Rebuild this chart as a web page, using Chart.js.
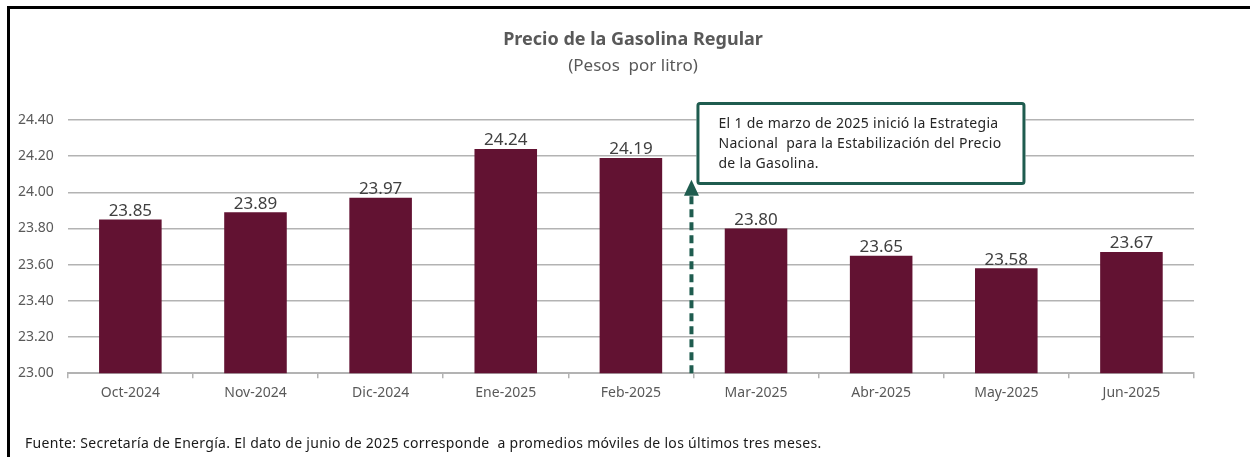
<!DOCTYPE html>
<html>
<head>
<meta charset="utf-8">
<script src="https://cdn.jsdelivr.net/npm/chart.js@4.4.1/dist/chart.umd.min.js"></script>
<style>
  html, body { margin: 0; padding: 0; background: #fff; overflow: hidden; }
  #frame { position: absolute; left: 7px; top: 6px; width: 1300px; height: 600px; border: 3px solid #000; }
  #wrap { position: absolute; left: 0; top: 0; width: 1250px; height: 457px; }
</style>
</head>
<body>
<div id="frame"></div>
<div id="wrap"><canvas id="gasChart" width="1250" height="457"></canvas></div>
<script>
const months = ['Oct-2024', 'Nov-2024', 'Dic-2024', 'Ene-2025', 'Feb-2025', 'Mar-2025', 'Abr-2025', 'May-2025', 'Jun-2025'];
const prices = [23.85, 23.89, 23.97, 24.24, 24.19, 23.80, 23.65, 23.58, 23.67];
const chartTitle = 'Precio de la Gasolina Regular';
const chartSubtitle = '(Pesos  por litro)';
const noteLines = [
    'El 1 de marzo de 2025 inició la Estrategia',
    'Nacional  para la Estabilización del Precio',
    'de la Gasolina.'
];
const sourceNote = 'Fuente: Secretaría de Energía. El dato de junio de 2025 corresponde  a promedios móviles de los últimos tres meses.';

const FONT = "'Noto Sans', 'Open Sans', sans-serif";
const BAR = '#621232';
const GREEN = '#1f5c4f';

// valores encima de cada barra
const barLabels = {
    id: 'barLabels',
    afterDatasetsDraw(chart) {
        const ctx = chart.ctx;
        const meta = chart.getDatasetMeta(0);
        ctx.save();
        ctx.font = '17px ' + FONT;
        ctx.fillStyle = '#404040';
        ctx.textAlign = 'center';
        ctx.textBaseline = 'bottom';
        meta.data.forEach((bar, i) => {
            ctx.fillText(prices[i].toFixed(2), bar.x, bar.y);
        });
        ctx.restore();
    }
};

// titulo, flecha punteada, recuadro de la nota y fuente
const noteBox = {
    id: 'noteBox',
    afterDraw(chart) {
        const ctx = chart.ctx;
        const x = chart.scales.x;
        const y = chart.scales.y;

        ctx.save();
        ctx.textAlign = 'center';
        ctx.textBaseline = 'middle';
        ctx.fillStyle = '#595959';
        ctx.font = 'bold 18px ' + FONT;
        ctx.fillText(chartTitle, 633, 40);
        ctx.font = '17px ' + FONT;
        ctx.fillText(chartSubtitle, 633, 66);

        const ax = (x.getPixelForValue(4) + x.getPixelForValue(5)) / 2 - 2;
        const tipY = y.getPixelForValue(24.07);
        const baseY = y.bottom;

        ctx.strokeStyle = GREEN;
        ctx.fillStyle = GREEN;
        ctx.lineWidth = 4;
        ctx.setLineDash([8, 5]);
        ctx.beginPath();
        ctx.moveTo(ax, baseY);
        ctx.lineTo(ax, tipY + 12);
        ctx.stroke();
        ctx.setLineDash([]);
        ctx.beginPath();
        ctx.moveTo(ax, tipY);
        ctx.lineTo(ax - 7.5, tipY + 16);
        ctx.lineTo(ax + 7.5, tipY + 16);
        ctx.closePath();
        ctx.fill();

        const bx = ax + 5;
        const by = y.getPixelForValue(24.50);
        const bw = 329;
        const bh = 83;
        ctx.fillStyle = '#fff';
        ctx.fillRect(bx, by, bw, bh);
        ctx.lineWidth = 3;
        ctx.strokeStyle = GREEN;
        ctx.beginPath();
        ctx.roundRect(bx + 1.5, by + 1.5, bw - 3, bh - 3, 2);
        ctx.stroke();

        ctx.fillStyle = '#262626';
        ctx.font = '14px ' + FONT;
        ctx.letterSpacing = '0.3px';
        ctx.textAlign = 'left';
        noteLines.forEach((line, i) => {
            ctx.fillText(line, bx + 22, by + 22 + i * 20);
        });

        ctx.fillStyle = '#1a1a1a';
        ctx.fillText(sourceNote, 25, 444);
        ctx.restore();
    }
};

const ctx = document.getElementById('gasChart').getContext('2d');

const chart = new Chart(ctx, {
    type: 'bar',
    data: {
        labels: months,
        datasets: [{
            data: prices,
            backgroundColor: BAR,
            borderWidth: 0,
            barPercentage: 0.5,
            categoryPercentage: 1.0
        }]
    },
    options: {
        responsive: false,
        animation: false,
        layout: {
            padding: { left: 4, right: 56, top: 120, bottom: 50 }
        },
        plugins: {
            legend: { display: false },
            tooltip: { enabled: false },
            title: { display: false },
            subtitle: { display: false }
        },
        scales: {
            x: {
                grid: {
                    drawOnChartArea: false,
                    drawTicks: true,
                    tickLength: 5,
                    color: '#b3b3b3',
                    lineWidth: 1.5
                },
                border: { display: true, color: '#b3b3b3', width: 2 },
                ticks: {
                    color: '#595959',
                    padding: 6,
                    font: { family: FONT, size: 14 }
                }
            },
            y: {
                min: 23.0,
                max: 24.4,
                grid: {
                    drawTicks: false,
                    color: '#b3b3b3',
                    lineWidth: 1.5
                },
                border: { display: false },
                ticks: {
                    stepSize: 0.2,
                    color: '#595959',
                    padding: 14,
                    font: { family: FONT, size: 14 },
                    callback: (v) => v.toFixed(2)
                }
            }
        }
    },
    plugins: [barLabels, noteBox]
});
</script>
</body>
</html>
